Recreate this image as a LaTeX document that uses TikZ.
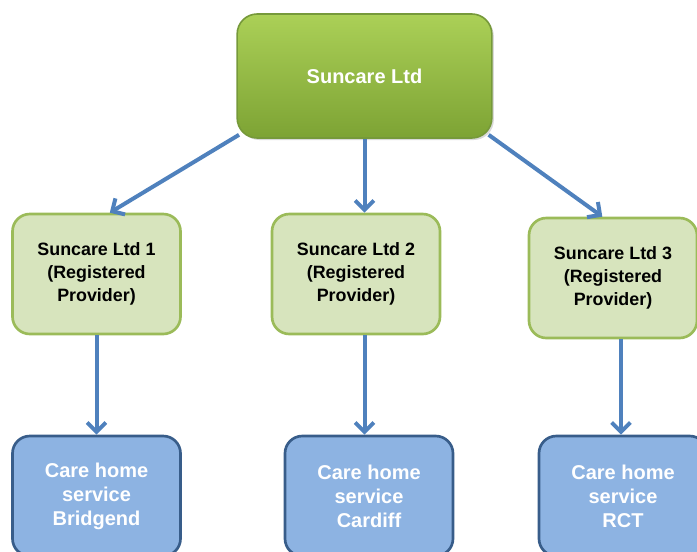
\documentclass[tikz,border=0pt]{standalone}
\usepackage{fontspec}
\setmainfont{Liberation Sans}
\usetikzlibrary{arrows.meta,shadows}

\definecolor{arrowblue}{HTML}{4F81BD}
\definecolor{greenedge}{HTML}{9BBB59}
\definecolor{greenfill}{HTML}{D7E4BD}
\definecolor{greentop}{HTML}{ABD057}
\definecolor{greenbottom}{HTML}{7DA334}
\definecolor{greendark}{HTML}{76993A}
\definecolor{blueedge}{HTML}{385D8A}
\definecolor{bluefill}{HTML}{8DB3E2}

\tikzset{
  company/.style={draw=greendark, line width=1.2pt, rounded corners=15pt,
    top color=greentop, bottom color=greenbottom,
    minimum width=191pt, minimum height=93pt, align=center, text=white,
    font=\bfseries\fontsize{15}{18}\selectfont,
    drop shadow={shadow xshift=1.5pt, shadow yshift=-1.5pt, opacity=0.3}},
  provider/.style={draw=greenedge, fill=greenfill, line width=2pt, rounded corners=13pt,
    minimum width=126pt, minimum height=90pt, align=center,
    font=\bfseries\fontsize{13.4}{17.3}\selectfont},
  service/.style={draw=blueedge, fill=bluefill, line width=2pt, rounded corners=13pt,
    minimum width=126pt, minimum height=90pt, align=center, text=white,
    font=\bfseries\fontsize{15}{18}\selectfont},
  link/.style={draw=arrowblue, line width=3pt, -{Straight Barb[length=7pt,width=14pt]}}
}

\begin{document}
\begin{tikzpicture}[x=0.75pt,y=-0.75pt]
            \useasboundingbox (0,0) rectangle (697,551);

            \node[company] (top) at (364.5,76) {Suncare Ltd};

            \node[provider] (prov1) at (96.5,274) {Suncare Ltd 1\\(Registered\\Provider)\rule[-2pt]{0pt}{1pt}};
            \node[provider] (prov2) at (356,274) {Suncare Ltd 2\\(Registered\\Provider)\rule[-2pt]{0pt}{1pt}};
            \node[provider] (prov3) at (613,278) {Suncare Ltd 3\\(Registered\\Provider)\rule[-2pt]{0pt}{1pt}};

            \node[service] (svc1) at (96.5,496) {Care home\\service\\Bridgend};
            \node[service] (svc2) at (369,496) {Care home\\service\\Cardiff};
            \node[service] (svc3) at (623,496) {Care home\\service\\RCT};

            \coordinate (out3) at ([xshift=6pt]prov3.south);

            \draw[link] ([xshift=2pt,yshift=3pt]top.south west) -- ([xshift=10pt]prov1.north);
            \draw[link] (top.south) -- (prov2.north -| top.south);
            \draw[link] ([xshift=-3pt,yshift=3pt]top.south east) -- ([xshift=-8pt]prov3.north);

            \draw[link] (prov1.south -| svc1.north) -- (svc1.north);
            \draw[link] (prov2.south -| top.south) -- (svc2.north -| top.south);
            \draw[link] (out3) -- (svc3.north -| out3);
\end{tikzpicture}
\end{document}
